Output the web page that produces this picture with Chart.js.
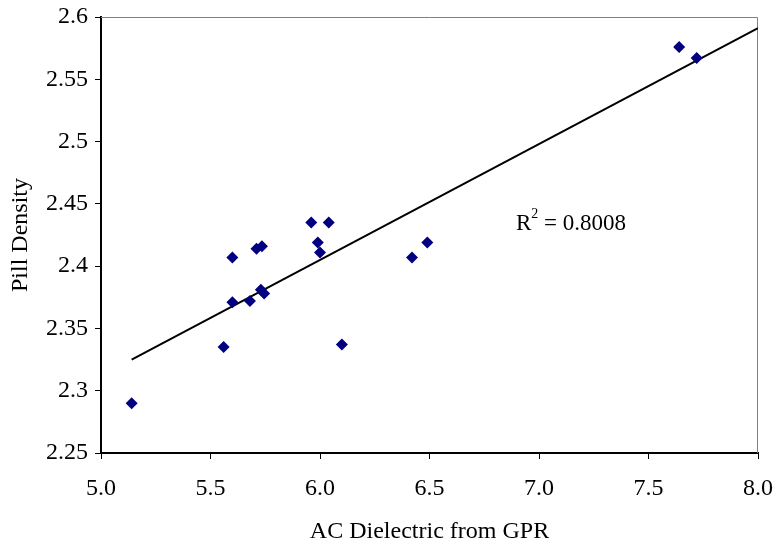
<!DOCTYPE html>
<html>
<head>
<meta charset="utf-8">
<script src="https://cdn.jsdelivr.net/npm/chart.js@4"></script>
<style>
  html, body { margin: 0; padding: 0; background: #fff; }
  #wrap { width: 773px; height: 548px; }
</style>
</head>
<body>
<div id="wrap"><canvas id="scatter" width="773" height="548"></canvas></div>
<script>
// values
const dielectric = [5.14, 5.56, 5.60, 5.60, 5.68, 5.71, 5.735, 5.73, 5.745, 5.96, 5.99, 6.00, 6.04, 6.10, 6.42, 6.49, 7.64, 7.72];
const density = [2.290, 2.335, 2.407, 2.371, 2.372, 2.414, 2.416, 2.381, 2.378, 2.435, 2.419, 2.411, 2.435, 2.337, 2.407, 2.419, 2.576, 2.567];
const trendX = [5.14, 8.0];
const trendY = [2.325, 2.591];
const xTicks = [5.0, 5.5, 6.0, 6.5, 7.0, 7.5, 8.0];
const yTicks = [2.25, 2.3, 2.35, 2.4, 2.45, 2.5, 2.55, 2.6];
const rSquared = '0.8008';

const serif = "'Liberation Serif', 'Times New Roman', serif";
const fontSize = 24;

// grey frame on top/right plus R² label
const extras = {
    id: 'extras',
    beforeDatasetsDraw(chart) {
        const { ctx, chartArea: a } = chart;
        ctx.save();
        ctx.strokeStyle = '#808080';
        ctx.lineWidth = 1;
        ctx.beginPath();
        ctx.moveTo(a.left, a.top + 0.5);
        ctx.lineTo(a.right - 0.5, a.top + 0.5);
        ctx.lineTo(a.right - 0.5, a.bottom);
        ctx.stroke();
        ctx.restore();
    },
    afterDatasetsDraw(chart) {
        const { ctx, scales } = chart;
        const px = scales.x.getPixelForValue(6.895);
        const py = scales.y.getPixelForValue(2.434);
        ctx.save();
        ctx.fillStyle = '#000';
        ctx.textBaseline = 'middle';
        ctx.font = '23px ' + serif;
        ctx.fillText('R', px, py);
        const w = ctx.measureText('R').width;
        ctx.font = '14px ' + serif;
        ctx.fillText('2', px + w, py - 9);
        const w2 = ctx.measureText('2').width;
        ctx.font = '23px ' + serif;
        ctx.fillText(' = ' + rSquared, px + w + w2, py);
        ctx.restore();
    }
};

new Chart(document.getElementById('scatter').getContext('2d'), {
    type: 'scatter',
    data: {
        datasets: [{
            label: 'Pill Density',
            data: dielectric.map((x, i) => ({ x: x, y: density[i] })),
            pointStyle: 'rectRot',
            pointRadius: 6,
            pointHoverRadius: 6,
            backgroundColor: '#000080',
            borderColor: '#000080',
            borderWidth: 0
        }, {
            label: 'Linear',
            type: 'line',
            data: trendX.map((x, i) => ({ x: x, y: trendY[i] })),
            borderColor: '#000',
            borderWidth: 2,
            pointRadius: 0,
            fill: false
        }]
    },
    options: {
        responsive: false,
        animation: false,
        layout: { padding: { top: 17, right: 15, left: 0, bottom: 0 } },
        plugins: { legend: { display: false }, tooltip: { enabled: false } },
        scales: {
            x: {
                type: 'linear',
                min: 5.0,
                max: 8.0,
                afterBuildTicks: s => { s.ticks = xTicks.map(v => ({ value: v })); },
                afterFit: s => { s.height = 95; s.paddingLeft = 0; s.paddingRight = 0; },
                border: { color: '#000', width: 2 },
                grid: { drawOnChartArea: false, drawTicks: true, tickLength: 6, color: '#000', lineWidth: 1 },
                ticks: {
                    color: '#000',
                    padding: 15,
                    maxRotation: 0,
                    font: { family: serif, size: fontSize },
                    callback: v => v.toFixed(1)
                },
                title: {
                    display: true,
                    text: 'AC Dielectric from GPR',
                    color: '#000',
                    font: { family: serif, size: fontSize },
                    padding: { top: 4, bottom: 2 }
                }
            },
            y: {
                min: 2.25,
                max: 2.6,
                afterBuildTicks: s => { s.ticks = yTicks.map(v => ({ value: v })); },
                afterFit: s => { s.width = 101; s.paddingTop = 0; s.paddingBottom = 0; },
                border: { color: '#000', width: 2 },
                grid: { drawOnChartArea: false, drawTicks: true, tickLength: 6, color: '#000', lineWidth: 1 },
                ticks: {
                    color: '#000',
                    padding: 7,
                    font: { family: serif, size: fontSize },
                    callback: v => String(+v.toFixed(2))
                },
                title: {
                    display: true,
                    text: 'Pill Density',
                    color: '#000',
                    font: { family: serif, size: fontSize },
                    padding: { top: 6, bottom: 2 }
                }
            }
        }
    },
    plugins: [extras]
});
</script>
</body>
</html>
